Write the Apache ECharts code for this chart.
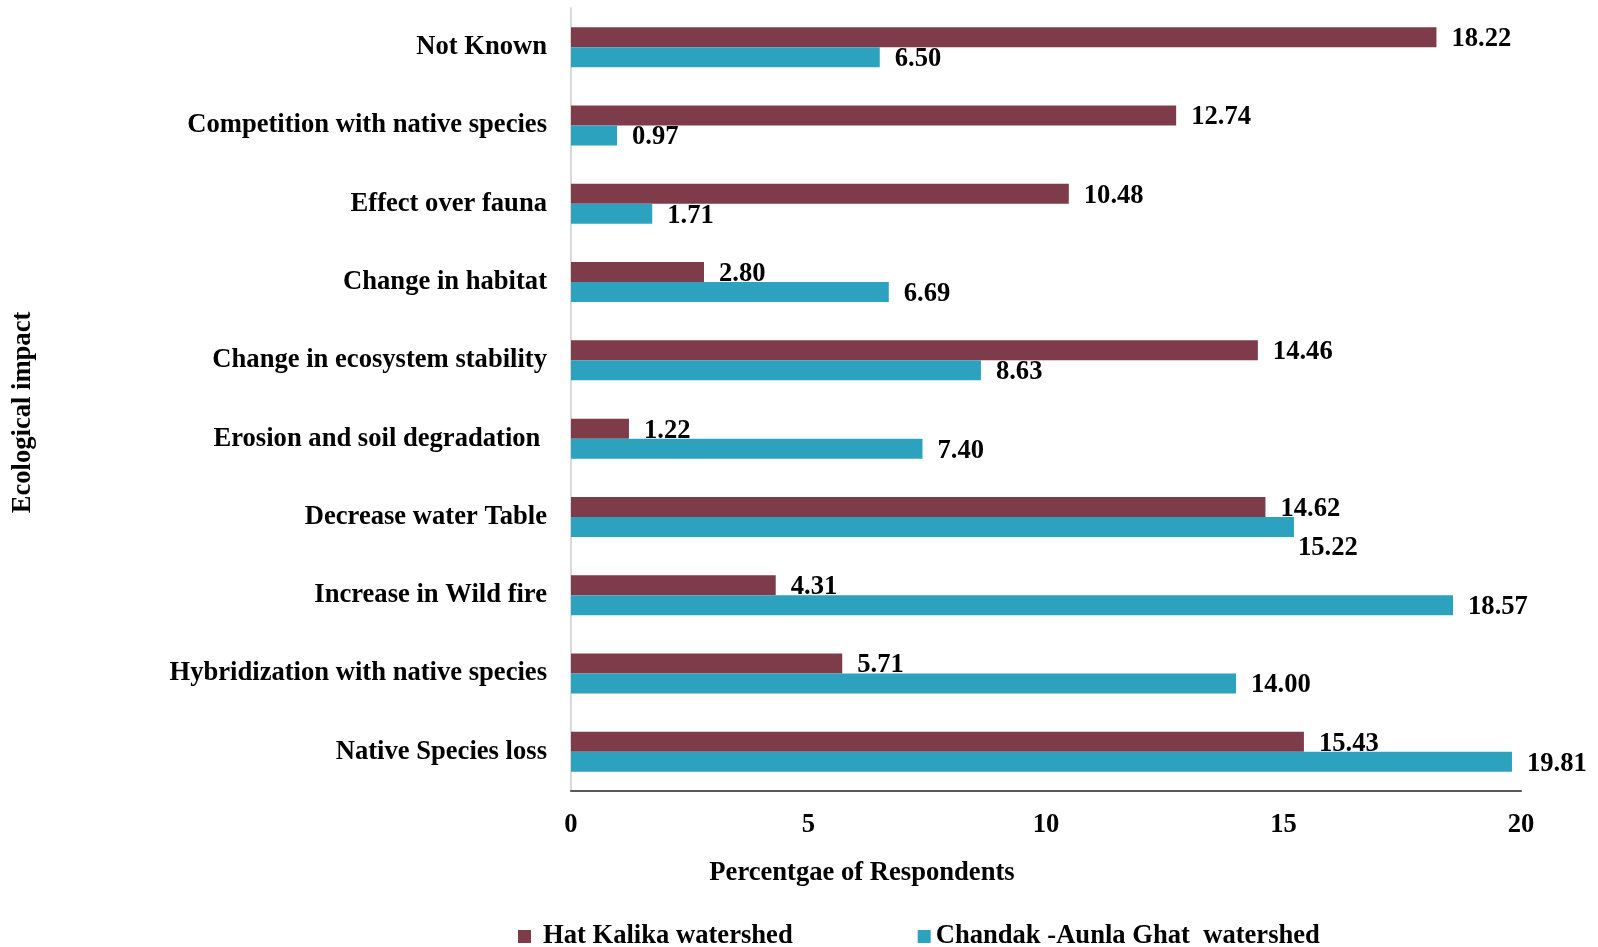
<!DOCTYPE html>
<html>
<head>
<meta charset="utf-8">
<script src="https://cdn.jsdelivr.net/npm/echarts@6/dist/echarts.min.js"></script>
<style>
  html, body { margin: 0; padding: 0; background: #ffffff; }
  #chart { width: 1598px; height: 947px; }
</style>
</head>
<body>
<div id="chart"></div>
<script>
// categories, listed top to bottom as in the figure
var categories = [
    'Not Known',
    'Competition with native species',
    'Effect over fauna',
    'Change in habitat',
    'Change in ecosystem stability',
    'Erosion and soil degradation ',
    'Decrease water Table',
    'Increase in Wild fire',
    'Hybridization with native species',
    'Native Species loss'
];

var hatKalika = [18.22, 12.74, 10.48, 2.80, 14.46, 1.22, 14.62, 4.31, 5.71, 15.43];
var chandakAunla = [6.50, 0.97, 1.71, 6.69, 8.63, 7.40, 15.22, 18.57, 14.00, 19.81];

var seriesNames = ['Hat Kalika watershed', 'Chandak -Aunla Ghat  watershed'];
var xTicks = [0, 5, 10, 15, 20];

var FONT = '"Liberation Serif", "Times New Roman", serif';
var FS = 26.6;

var myChart = echarts.init(document.getElementById('chart'));

function valueLabel() {
    return {
        show: true,
        position: 'right',
        distance: 15,
        offset: [0, 2],
        fontFamily: FONT,
        fontWeight: 'bold',
        fontSize: FS,
        color: '#000000',
        formatter: function (p) { return p.value.toFixed(2); }
    };
}

// the 15.22 label sits below its bar end in the original (overlap avoidance)
var chandakData = chandakAunla.map(function (v, i) {
    if (i === 6) {
        return { value: v, label: { offset: [-11, 21] } };
    }
    return v;
});

var option = {
    backgroundColor: '#ffffff',
    animation: false,
    grid: {
        left: 571,
        right: 77,
        top: 8,
        bottom: 156
    },
    legend: {
        left: 513,
        top: 918,
        itemWidth: 13,
        itemHeight: 13,
        itemGap: 125,
        icon: 'rect',
        data: [
            { name: seriesNames[0], textStyle: { padding: [0, 0, 0, 7] } },
            { name: seriesNames[1] }
        ],
        textStyle: {
            fontFamily: FONT,
            fontWeight: 'bold',
            fontSize: FS,
            color: '#000000'
        }
    },
    xAxis: {
        type: 'value',
        min: xTicks[0],
        max: xTicks[xTicks.length - 1],
        interval: 5,
        name: 'Percentgae of Respondents',
        nameLocation: 'middle',
        nameGap: 69,
        nameTextStyle: {
            fontFamily: FONT,
            fontWeight: 'bold',
            fontSize: FS,
            color: '#000000',
            padding: [0, 368, 0, 0]
        },
        axisLine: { show: true, lineStyle: { color: '#595959', width: 2 } },
        axisTick: { show: false },
        splitLine: { show: false },
        axisLabel: {
            margin: 21,
            fontFamily: FONT,
            fontWeight: 'bold',
            fontSize: FS,
            color: '#000000'
        }
    },
    yAxis: {
        type: 'category',
        inverse: true,
        data: categories,
        name: 'Ecological impact',
        nameLocation: 'middle',
        nameGap: 534,
        nameRotate: 90,
        nameTextStyle: {
            fontFamily: FONT,
            fontWeight: 'bold',
            fontSize: FS,
            color: '#000000',
            padding: [0, 26, 0, 0]
        },
        axisLine: { show: true, lineStyle: { color: '#d9d9d9', width: 2 } },
        axisTick: { show: false },
        axisLabel: {
            margin: 24,
            fontFamily: FONT,
            fontWeight: 'bold',
            fontSize: FS,
            color: '#000000'
        }
    },
    series: [
        {
            name: seriesNames[0],
            type: 'bar',
            data: hatKalika,
            barWidth: 20,
            barGap: '0%',
            itemStyle: { color: '#7e3c4a' },
            label: valueLabel()
        },
        {
            name: seriesNames[1],
            type: 'bar',
            data: chandakData,
            barWidth: 20,
            barGap: '0%',
            itemStyle: { color: '#2ca2bf' },
            label: valueLabel()
        }
    ]
};

myChart.setOption(option);

window.onresize = function () {
    myChart.resize();
};
</script>
</body>
</html>
